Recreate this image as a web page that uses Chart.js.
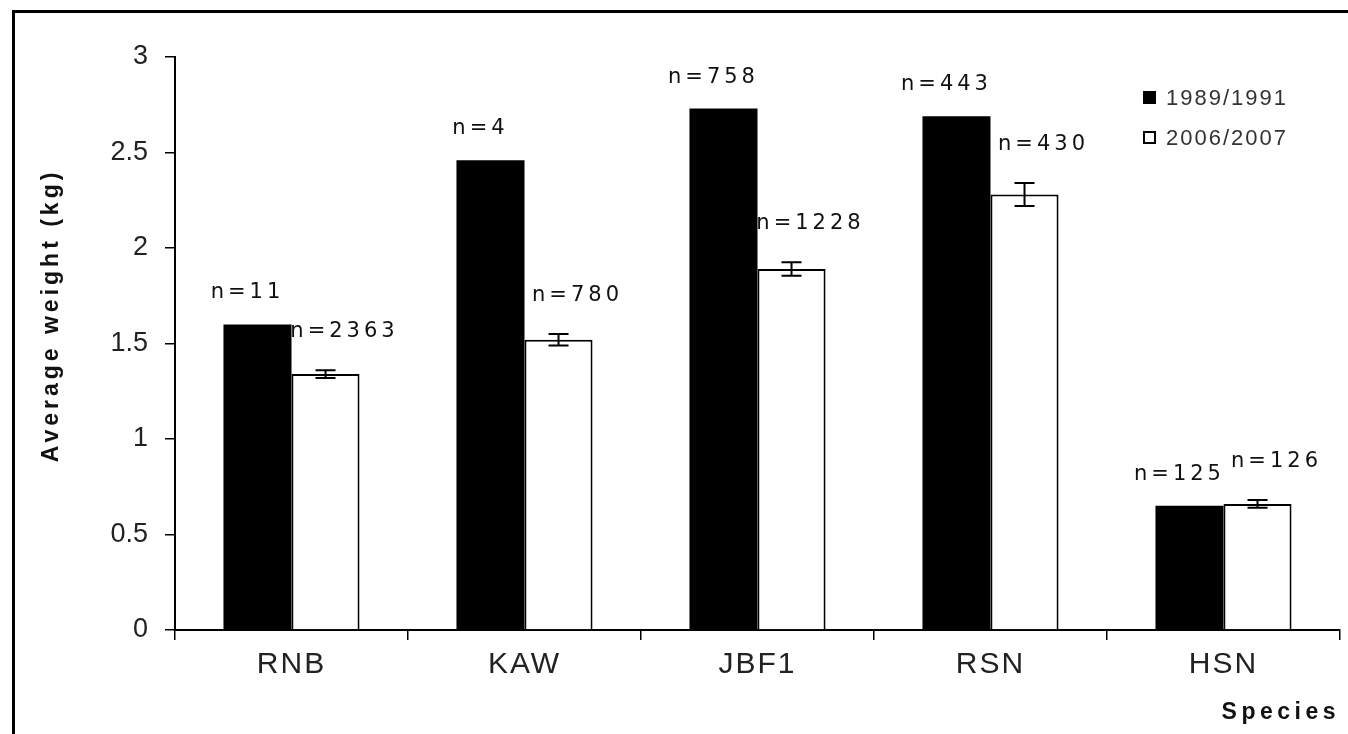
<!DOCTYPE html>
<html>
<head>
<meta charset="utf-8">
<script src="https://cdn.jsdelivr.net/npm/chart.js@4"></script>
<style>
  html, body { margin: 0; padding: 0; background: #fff; }
</style>
</head>
<body>
<canvas id="chart" width="1348" height="734"></canvas>
<script>
// values
const species = ['RNB', 'KAW', 'JBF1', 'RSN', 'HSN'];
const seriesNames = ['1989/1991', '2006/2007'];
const weight1989 = [1.60, 2.46, 2.73, 2.69, 0.65];
const weight2006 = [1.34, 1.52, 1.89, 2.28, 0.66];
const err2006 = [0.02, 0.03, 0.035, 0.06, 0.02];
const n1989 = [11, 4, 758, 443, 125];
const n2006 = [2363, 780, 1228, 430, 126];
const yMin = 0, yMax = 3, yStep = 0.5;

//wrap a scale draw method so its text gets letter spacing (and an optional shift)
function spaced(scale, method, spacing, dy)
{
    const orig = scale[method];
    scale[method] = function() {
        const ctx = this.ctx;
        ctx.save();
        ctx.letterSpacing = spacing;
        if (dy) ctx.translate(0, dy);
        orig.apply(this, arguments);
        ctx.restore();
    };
}

const spacing = {
    id: 'spacing',
    afterLayout(chart) {
        const x = chart.scales.x, y = chart.scales.y;
        if (x._spaced) return;
        x._spaced = true;
        spaced(x, 'drawLabels', '2px');
        spaced(x, 'drawTitle', '4.5px');
        spaced(y, 'drawTitle', '4px', -28);
    }
};

const frame = {
    id: 'frame',
    afterDraw(chart) {
        const ctx = chart.ctx;
        ctx.save();
        ctx.fillStyle = '#000';
        ctx.fillRect(12, 10, 3, 724);
        ctx.fillRect(12, 10, 1336, 3);
        ctx.restore();
    }
};

const errorBars = {
    id: 'errorBars',
    afterDatasetsDraw(chart) {
        const ctx = chart.ctx, y = chart.scales.y;
        ctx.save();
        ctx.strokeStyle = '#000';
        ctx.lineWidth = 2;
        chart.getDatasetMeta(1).data.forEach((bar, i) => {
            const yt = y.getPixelForValue(weight2006[i] + err2006[i]);
            const yb = y.getPixelForValue(weight2006[i] - err2006[i]);
            ctx.beginPath();
            ctx.moveTo(bar.x, yt); ctx.lineTo(bar.x, yb);
            ctx.moveTo(bar.x - 10, yt); ctx.lineTo(bar.x + 10, yt);
            ctx.moveTo(bar.x - 10, yb); ctx.lineTo(bar.x + 10, yb);
            ctx.stroke();
        });
        ctx.restore();
    }
};

// n= labels: old series sit a bit left of the bar, new series a bit right
const countLabels = {
    id: 'countLabels',
    afterDatasetsDraw(chart) {
        const ctx = chart.ctx, y = chart.scales.y;
        ctx.save();
        ctx.font = '21px "DejaVu Sans"';
        ctx.letterSpacing = '4px';
        ctx.fillStyle = '#111';
        ctx.textAlign = 'center';
        ctx.textBaseline = 'alphabetic';
        const sets = [
            { counts: n1989, vals: weight1989, errs: null, dx: -12, gap: 26 },
            { counts: n2006, vals: weight2006, errs: err2006, dx: 17, gap: 33 }
        ];
        sets.forEach((s, d) => {
            chart.getDatasetMeta(d).data.forEach((bar, i) => {
                const top = y.getPixelForValue(s.vals[i] + (s.errs ? s.errs[i] : 0));
                ctx.fillText('n=' + s.counts[i], bar.x + s.dx + 2, top - s.gap);
            });
        });
        ctx.restore();
    }
};

const legendBox = {
    id: 'legendBox',
    afterDraw(chart) {
        const ctx = chart.ctx;
        ctx.save();
        ctx.font = '22px "Liberation Sans"';
        ctx.letterSpacing = '2px';
        ctx.textAlign = 'left';
        ctx.textBaseline = 'middle';
        chart.data.datasets.forEach((ds, i) => {
            const cy = 98 + i * 40;
            ctx.fillStyle = ds.backgroundColor;
            ctx.fillRect(1144, cy - 6, 11, 11);
            ctx.strokeStyle = '#000';
            ctx.lineWidth = 2;
            ctx.strokeRect(1144, cy - 6, 11, 11);
            ctx.fillStyle = '#333';
            ctx.fillText(ds.label, 1166, cy + 1);
        });
        ctx.restore();
    }
};

const ctx = document.getElementById('chart').getContext('2d');
const chart = new Chart(ctx, {
    type: 'bar',
    data: {
        labels: species,
        datasets: [
            { label: seriesNames[0], data: weight1989, backgroundColor: '#000', borderWidth: 0 },
            { label: seriesNames[1], data: weight2006, backgroundColor: '#fff', borderColor: '#000', borderWidth: 2 }
        ]
    },
    options: {
        responsive: false,
        animation: false,
        devicePixelRatio: 1,
        categoryPercentage: 0.584,
        barPercentage: 1.0,
        layout: { padding: { top: 57, right: 8, left: 0, bottom: 0 } },
        plugins: { legend: { display: false }, tooltip: { enabled: false } },
        scales: {
            x: {
                afterFit: (s) => { s.height = 104; },
                grid: { offset: true, drawOnChartArea: false, tickLength: 10, color: '#000', lineWidth: 1.5 },
                border: { color: '#000', width: 2 },
                ticks: { color: '#222', padding: 7, font: { family: '"Liberation Sans"', size: 30 } },
                title: { display: true, text: 'Species', align: 'end', color: '#111',
                         padding: { top: 0, bottom: 8 }, font: { family: '"Liberation Sans"', size: 23, weight: 'bold' } }
            },
            y: {
                min: yMin, max: yMax,
                afterFit: (s) => { s.width = 175; },
                grid: { drawOnChartArea: false, tickLength: 10, color: '#000', lineWidth: 1.5 },
                border: { color: '#000', width: 2 },
                ticks: { stepSize: yStep, color: '#222', padding: 17, font: { family: '"Liberation Sans"', size: 27 },
                         callback: (v) => String(v) },
                title: { display: true, text: 'Average weight (kg)', color: '#111',
                         padding: { top: 38, bottom: 0 }, font: { family: '"Liberation Sans"', size: 23, weight: 'bold' } }
            }
        }
    },
    plugins: [spacing, errorBars, countLabels, legendBox, frame]
});
</script>
</body>
</html>
